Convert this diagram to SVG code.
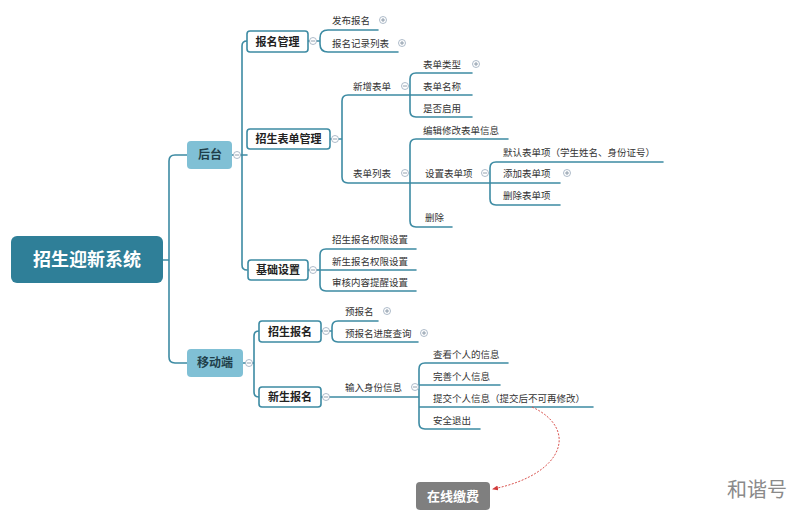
<svg xmlns="http://www.w3.org/2000/svg" width="800" height="512" viewBox="0 0 800 512">
<defs>
<style>
text{font-family:"Liberation Sans","Noto Sans CJK SC",sans-serif;dominant-baseline:central;fill:#333}
.t3{font-size:9.5px}
.b2 rect{fill:#fff;stroke:#3d8ba3;stroke-width:1.6}
.b2 text{font-size:11px;font-weight:bold;text-anchor:middle;fill:#222}
.b1 rect{fill:#80c0d5}
.b1 text{font-size:12px;font-weight:bold;text-anchor:middle;fill:#1f3f4a}
.ln{fill:none;stroke:#3d8ba3;stroke-width:1.6;stroke-linecap:round}
.cm circle,.cp circle{fill:#fff;stroke:#9ab;stroke-width:0.8}
.cm path,.cp path{stroke:#789;stroke-width:0.8;fill:none}
</style>
<marker id="arr" viewBox="0 0 6 6" refX="5" refY="3" markerWidth="6" markerHeight="6" orient="auto">
<path d="M0,0.5 L6,3 L0,5.5 Z" fill="#d23b3b"/>
</marker>
<g id="minus" class="cm"><circle r="3.5"/><path d="M-2,0 H2"/></g>
<g id="plus" class="cp"><circle r="3.5"/><path d="M-2,0 H2 M0,-2 V2"/></g>
</defs>
<rect width="800" height="512" fill="#fff"/>

<g id="connectors">
<path class="ln" d="M163,260 H169 M187,155 H175 Q169,155 169,161 V357 Q169,363 175,363 H187"/>
<path class="ln" d="M232,155 H247 M247,41 Q242,41 242,46 V265 Q242,270 247,270"/>
<path class="ln" d="M243,363 H254 M259,331 Q254,331 254,336 V392 Q254,397 259,397"/>
<path class="ln" d="M308,41 H320 M378,30 H328 Q320,30 320,38 V44 Q320,52 328,52 H398"/>
<path class="ln" d="M330,139 H342 M410,95 H348 Q342,95 342,101 V177 Q342,183 348,183 H410"/>
<path class="ln" d="M472,73 H416 Q410,73 410,79 V111 Q410,117 416,117 H472 M410,95 H472"/>
<path class="ln" d="M508,139 H416 Q410,139 410,145 V221 Q410,227 416,227 H452 M410,183 H490"/>
<path class="ln" d="M663,162 H496 Q490,162 490,168 V199 Q490,205 496,205 H560 M490,183 H560"/>
<path class="ln" d="M308,270 H320 M416,249 H326 Q320,249 320,255 V285 Q320,291 326,291 H416 M320,270 H416"/>
<path class="ln" d="M321,331 H332 M378,321 H338 Q332,321 332,327 V336 Q332,342 338,342 H418"/>
<path class="ln" d="M321,397 H419 M508,363 H425 Q419,363 419,369 V423 Q419,429 425,429 H480 M419,385 H500 M419,407 H593"/>
<path d="M532,407 C578,428 566,474 493,489" fill="none" stroke="#d9534f" stroke-width="1" stroke-dasharray="2,1.5" marker-end="url(#arr)"/>
</g>

<g id="root">
<rect x="11" y="236" width="152" height="47" rx="6" fill="#2f7f98"/>
<text x="87" y="260" style="font-size:18px;font-weight:bold;fill:#fff;text-anchor:middle">招生迎新系统</text>
</g>

<g id="n-houtai" class="b1">
<rect x="187" y="141" width="45" height="28" rx="4"/>
<text x="210" y="155">后台</text>
<use href="#minus" x="237" y="155"/>
</g>
<g id="n-yidong" class="b1">
<rect x="187" y="349" width="56" height="28" rx="4"/>
<text x="215" y="363">移动端</text>
<use href="#minus" x="249" y="363"/>
</g>

<g id="n-bmgl" class="b2">
<rect x="247" y="31" width="61" height="21" rx="3"/>
<text x="277.5" y="41.5">报名管理</text>
<use href="#minus" x="313" y="41"/>
</g>
<g id="n-zsbdgl" class="b2">
<rect x="247" y="129" width="83" height="20" rx="3"/>
<text x="288.5" y="139">招生表单管理</text>
<use href="#minus" x="335" y="139"/>
</g>
<g id="n-jcsz" class="b2">
<rect x="248" y="260" width="60" height="20" rx="3"/>
<text x="278" y="270">基础设置</text>
<use href="#minus" x="313" y="270"/>
</g>
<g id="n-zsbm" class="b2">
<rect x="259" y="321" width="62" height="21" rx="3"/>
<text x="290" y="331.5">招生报名</text>
<use href="#minus" x="326" y="331"/>
</g>
<g id="n-xsbm" class="b2">
<rect x="259" y="387" width="62" height="20" rx="3"/>
<text x="290" y="397">新生报名</text>
<use href="#minus" x="326" y="397"/>
</g>

<g id="n-fbbm"><text class="t3" x="332" y="20">发布报名</text><use href="#plus" x="383" y="20"/></g>
<g id="n-bmjllb"><text class="t3" x="332" y="43">报名记录列表</text><use href="#plus" x="402" y="43"/></g>

<g id="n-xzbd"><text class="t3" x="353" y="86">新增表单</text><use href="#minus" x="405" y="86"/></g>
<g id="n-bdlx"><text class="t3" x="423" y="64">表单类型</text><use href="#plus" x="476" y="64"/></g>
<g id="n-bdmc"><text class="t3" x="423" y="86">表单名称</text></g>
<g id="n-sfqy"><text class="t3" x="423" y="108">是否启用</text></g>

<g id="n-bdlb"><text class="t3" x="353" y="173">表单列表</text><use href="#minus" x="405" y="173"/></g>
<g id="n-bjxg"><text class="t3" x="423" y="130">编辑修改表单信息</text></g>
<g id="n-szbdx"><text class="t3" x="425" y="173">设置表单项</text><use href="#minus" x="485" y="173"/></g>
<g id="n-mrbdx"><text class="t3" x="503" y="152">默认表单项（学生姓名、身份证号）</text></g>
<g id="n-tjbdx"><text class="t3" x="503" y="173">添加表单项</text><use href="#plus" x="567" y="173"/></g>
<g id="n-scbdx"><text class="t3" x="503" y="195">删除表单项</text></g>
<g id="n-sc"><text class="t3" x="425" y="217">删除</text></g>

<g id="n-zsqx"><text class="t3" x="332" y="239">招生报名权限设置</text></g>
<g id="n-xsqx"><text class="t3" x="332" y="261">新生报名权限设置</text></g>
<g id="n-shtx"><text class="t3" x="332" y="282">审核内容提醒设置</text></g>

<g id="n-ybm"><text class="t3" x="345" y="311">预报名</text><use href="#plus" x="387" y="311"/></g>
<g id="n-ybmcx"><text class="t3" x="345" y="333">预报名进度查询</text><use href="#plus" x="424" y="333"/></g>

<g id="n-srsf"><text class="t3" x="345" y="387">输入身份信息</text><use href="#minus" x="415" y="387"/></g>
<g id="n-ckxx"><text class="t3" x="433" y="354">查看个人的信息</text></g>
<g id="n-wsxx"><text class="t3" x="433" y="376">完善个人信息</text></g>
<g id="n-tjxx"><text class="t3" x="433" y="398">提交个人信息（提交后不可再修改）</text></g>
<g id="n-aqtc"><text class="t3" x="433" y="420">安全退出</text></g>

<g id="n-zxjf">
<rect x="416" y="482" width="74" height="28" rx="4" fill="#7f7f7f"/>
<text x="453" y="496" style="font-size:13px;font-weight:bold;fill:#fff;text-anchor:middle">在线缴费</text>
</g>

<text x="757" y="490" style="font-size:20px;fill:#8a8a8a;text-anchor:middle">和谐号</text>
</svg>
